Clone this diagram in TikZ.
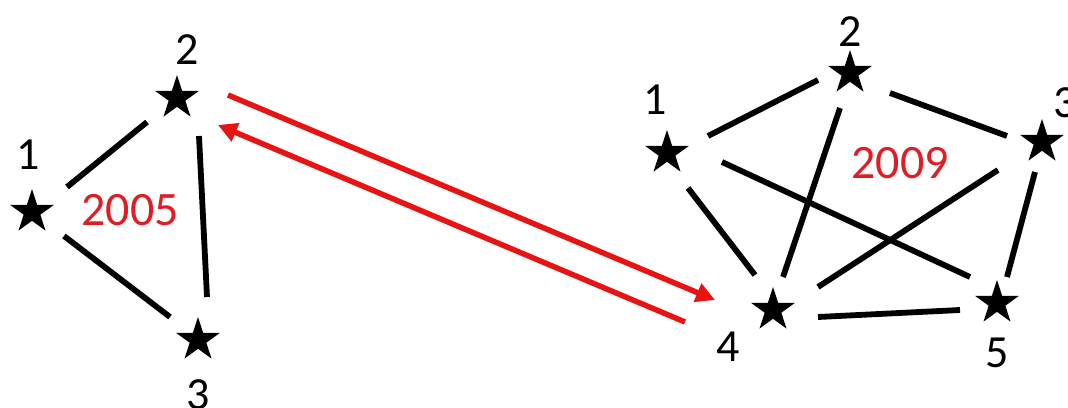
\documentclass[tikz,border=0pt]{standalone}
\usepackage{fontspec}
\setmainfont{Carlito}
\usetikzlibrary{shapes.geometric,arrows.meta}
\definecolor{arrred}{RGB}{232,20,20}
\definecolor{txtred}{RGB}{222,30,36}
\tikzset{
  vstar/.style={star, star points=5, star point ratio=2.618, minimum size=46pt, inner sep=0pt, fill=black, draw=none},
  lab/.style={inner sep=0pt, font=\fontsize{46}{50}\selectfont, text=black},
  yr/.style={inner sep=0pt, font=\fontsize{48}{52}\selectfont, text=txtred},
  edge/.style={line width=5.8pt, black},
  redarrow/.style={line width=5.5pt, arrred, -{Triangle[length=19pt,width=19pt]}}
}
\begin{document}
\begin{tikzpicture}[x=1pt,y=-1pt]
\useasboundingbox (0,0) rectangle (1068,407);
% left graph
\node[vstar] (l1) at (32,212) {};
\node[vstar] (l2) at (177,98) {};
\node[vstar] (l3) at (198,340) {};
\node[lab] (tl1) at (28,155) {1};
\node[lab] (tl2) at (187,50) {2};
\node[lab] (tl3) at (198,395) {3};
\node[yr] (y1) at (130,210) {2005};
\draw[edge] ([shift={(35,-25)}]l1.center) -- ([shift={(-30,24)}]l2.center);
\draw[edge] ([shift={(32,24)}]l1.center) -- ([shift={(-28,-23)}]l3.center);
\draw[edge] ([shift={(22,38)}]l2.center) -- ([shift={(9,-43)}]l3.center);
% right graph
\node[vstar] (r1) at (667,153) {};
\node[vstar] (r2) at (850,73) {};
\node[vstar] (r3) at (1042,142) {};
\node[vstar] (r4) at (773,310) {};
\node[vstar] (r5) at (997,303) {};
\node[lab] (tr1) at (655,100) {1};
\node[lab] (tr2) at (850,32) {2};
\node[lab] (tr3) at (1065,103) {3};
\node[lab] (tr4) at (728,347) {4};
\node[lab] (tr5) at (997,353) {5};
\node[yr] (y2) at (900,163) {2009};
\draw[edge] ([shift={(41,-17)}]r1.center) -- ([shift={(-32,7)}]r2.center);
\draw[edge] ([shift={(40,20)}]r2.center) -- ([shift={(-35,-6)}]r3.center);
\draw[edge] ([shift={(21,35)}]r1.center) -- ([shift={(-18,-35)}]r4.center);
\draw[edge] ([shift={(55,9)}]r1.center) -- ([shift={(-27,-26)}]r5.center);
\draw[edge] ([shift={(-10,35)}]r2.center) -- ([shift={(10,-33)}]r4.center);
\draw[edge] ([shift={(-44,28)}]r3.center) -- ([shift={(45,-23)}]r4.center);
\draw[edge] ([shift={(-7,30)}]r3.center) -- ([shift={(10,-26)}]r5.center);
\draw[edge] ([shift={(45,7)}]r4.center) -- ([shift={(-37,7)}]r5.center);
% red arrows
\draw[redarrow] ([shift={(51,-3)}]l2.center) -- ([shift={(-58,-10)}]r4.center);
\draw[redarrow] ([shift={(-88,12)}]r4.center) -- ([shift={(41,27)}]l2.center);
\end{tikzpicture}
\end{document}
